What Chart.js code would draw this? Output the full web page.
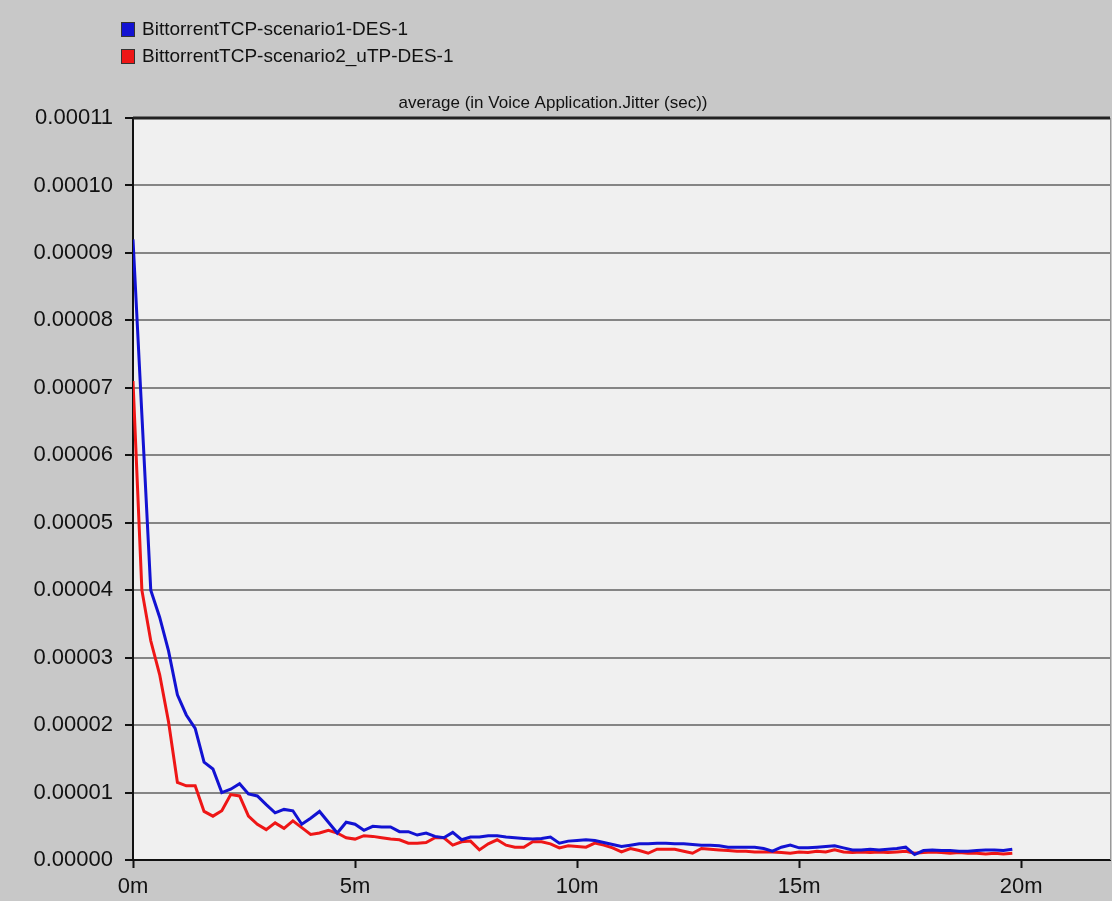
<!DOCTYPE html>
<html>
<head>
<meta charset="utf-8">
<title>Voice Application Jitter</title>
<script src="https://cdn.jsdelivr.net/npm/chart.js@4.4.1/dist/chart.umd.min.js"></script>
<style>
  html, body { margin: 0; padding: 0; background: #c8c8c8; }
  #wrap { width: 1112px; height: 901px; }
</style>
</head>
<body>
<div id="wrap"><canvas id="jitterChart" width="1112" height="901"></canvas></div>
<script>
// time of each bucket (minutes)
const minutes = [
  0, 0.2, 0.4, 0.6, 0.8, 1, 1.2, 1.4, 1.6, 1.8, 2, 2.2, 2.4, 2.6, 2.8, 3, 3.2, 3.4, 3.6, 3.8,
  4, 4.2, 4.4, 4.6, 4.8, 5, 5.2, 5.4, 5.6, 5.8, 6, 6.2, 6.4, 6.6, 6.8, 7, 7.2, 7.4, 7.6, 7.8,
  8, 8.2, 8.4, 8.6, 8.8, 9, 9.2, 9.4, 9.6, 9.8, 10, 10.2, 10.4, 10.6, 10.8, 11, 11.2, 11.4, 11.6, 11.8,
  12, 12.2, 12.4, 12.6, 12.8, 13, 13.2, 13.4, 13.6, 13.8, 14, 14.2, 14.4, 14.6, 14.8, 15, 15.2, 15.4, 15.6, 15.8,
  16, 16.2, 16.4, 16.6, 16.8, 17, 17.2, 17.4, 17.6, 17.8, 18, 18.2, 18.4, 18.6, 18.8, 19, 19.2, 19.4, 19.6, 19.8
];

// jitter values, in units of 0.00001 sec
const scenario1 = [
  9.2, 6.6, 4.0, 3.6, 3.1, 2.45, 2.15, 1.95, 1.45, 1.35, 1.0, 1.05, 1.13, 0.98, 0.95, 0.82, 0.70, 0.75, 0.73, 0.53,
  0.62, 0.72, 0.56, 0.40, 0.56, 0.53, 0.44, 0.50, 0.49, 0.49, 0.42, 0.42, 0.37, 0.40, 0.35, 0.33, 0.41, 0.30, 0.34, 0.34,
  0.36, 0.36, 0.34, 0.33, 0.32, 0.31, 0.32, 0.34, 0.25, 0.28, 0.29, 0.30, 0.29, 0.26, 0.23, 0.20, 0.22, 0.24, 0.24, 0.25,
  0.25, 0.24, 0.24, 0.23, 0.22, 0.22, 0.21, 0.19, 0.19, 0.19, 0.19, 0.17, 0.13, 0.19, 0.22, 0.18, 0.18, 0.19, 0.20, 0.21,
  0.18, 0.15, 0.15, 0.16, 0.15, 0.16, 0.17, 0.19, 0.08, 0.14, 0.15, 0.14, 0.14, 0.13, 0.13, 0.14, 0.15, 0.15, 0.14, 0.16
];
const scenario2 = [
  7.1, 4.0, 3.25, 2.75, 2.05, 1.15, 1.1, 1.1, 0.72, 0.65, 0.73, 0.97, 0.95, 0.65, 0.53, 0.45, 0.55, 0.47, 0.58, 0.48,
  0.38, 0.40, 0.44, 0.40, 0.33, 0.31, 0.36, 0.35, 0.33, 0.31, 0.30, 0.25, 0.25, 0.26, 0.33, 0.33, 0.22, 0.27, 0.28, 0.15,
  0.24, 0.30, 0.22, 0.19, 0.19, 0.27, 0.27, 0.24, 0.18, 0.21, 0.20, 0.19, 0.25, 0.22, 0.18, 0.12, 0.17, 0.14, 0.10, 0.16,
  0.16, 0.16, 0.13, 0.10, 0.17, 0.16, 0.15, 0.14, 0.13, 0.13, 0.12, 0.12, 0.12, 0.11, 0.10, 0.12, 0.11, 0.13, 0.12, 0.15,
  0.12, 0.11, 0.12, 0.11, 0.12, 0.11, 0.12, 0.13, 0.10, 0.11, 0.12, 0.11, 0.10, 0.11, 0.10, 0.10, 0.09, 0.10, 0.09, 0.10
];

const seriesNames = ['BittorrentTCP-scenario1-DES-1', 'BittorrentTCP-scenario2_uTP-DES-1'];
const seriesColors = ['#1212d2', '#ee1616'];
const chartTitle = 'average (in Voice Application.Jitter (sec))';
const xTicks = [0, 5, 10, 15, 20];
const yTicks = [0, 1, 2, 3, 4, 5, 6, 7, 8, 9, 10, 11];

const FONT = '"Liberation Sans", Arial, sans-serif';

function toPoints(vals) {
    return vals.map((v, i) => ({ x: minutes[i], y: v }));
}

// gray panel, plot background, top rule, legend and title
const opnetFrame = {
    id: 'opnetFrame',
    beforeDraw(chart) {
        const { ctx, chartArea: a } = chart;
        ctx.save();
        ctx.fillStyle = '#c8c8c8';
        ctx.fillRect(0, 0, chart.width, chart.height);
        ctx.fillStyle = '#f0f0f0';
        ctx.fillRect(a.left, a.top, a.right - a.left, a.bottom - a.top);
        ctx.restore();
    },
    afterDraw(chart) {
        const { ctx, chartArea: a } = chart;
        ctx.save();
        ctx.strokeStyle = '#222';
        ctx.lineWidth = 3;
        ctx.beginPath();
        ctx.moveTo(a.left, a.top);
        ctx.lineTo(a.right, a.top);
        ctx.stroke();
        ctx.strokeStyle = '#999';
        ctx.lineWidth = 1;
        ctx.beginPath();
        ctx.moveTo(a.right + 0.5, a.top);
        ctx.lineTo(a.right + 0.5, a.bottom);
        ctx.stroke();

        // legend
        ctx.font = '19px ' + FONT;
        ctx.textBaseline = 'middle';
        ctx.textAlign = 'left';
        seriesNames.forEach((name, i) => {
            const y = 30 + i * 27;
            ctx.fillStyle = seriesColors[i];
            ctx.fillRect(122, y - 7, 12, 13);
            ctx.strokeStyle = '#333';
            ctx.lineWidth = 1;
            ctx.strokeRect(121.5, y - 7.5, 13, 14);
            ctx.fillStyle = '#111';
            ctx.fillText(name, 142, y);
        });

        // title
        ctx.font = '17px ' + FONT;
        ctx.textAlign = 'center';
        ctx.fillText(chartTitle, 553, 103);
        ctx.restore();
    }
};

new Chart(document.getElementById('jitterChart'), {
    type: 'line',
    data: {
        datasets: [
            { label: seriesNames[0], data: toPoints(scenario1), borderColor: seriesColors[0], borderWidth: 3 },
            { label: seriesNames[1], data: toPoints(scenario2), borderColor: seriesColors[1], borderWidth: 3 }
        ]
    },
    options: {
        responsive: false,
        animation: false,
        layout: { padding: { top: 118, right: 2, left: 0, bottom: 0 } },
        elements: { point: { radius: 0 }, line: { tension: 0 } },
        plugins: { legend: { display: false }, title: { display: false }, tooltip: { enabled: false } },
        scales: {
            x: {
                type: 'linear',
                min: 0,
                max: 22,
                afterFit(s) { s.height = 41; },
                afterBuildTicks(s) { s.ticks = xTicks.map(v => ({ value: v })); },
                ticks: {
                    color: '#111',
                    font: { family: FONT, size: 22 },
                    padding: 6,
                    maxRotation: 0,
                    callback: v => v + 'm'
                },
                grid: { drawOnChartArea: false, tickLength: 8, tickColor: '#111', tickWidth: 2 },
                border: { color: '#111', width: 2 }
            },
            y: {
                min: 0,
                max: 11,
                afterFit(s) { s.width = 133; },
                afterBuildTicks(s) { s.ticks = yTicks.map(v => ({ value: v })); },
                ticks: {
                    color: '#111',
                    font: { family: FONT, size: 22 },
                    padding: 12,
                    callback: v => (v * 1e-5).toFixed(5)
                },
                grid: { color: '#858585', lineWidth: 2, tickLength: 8, tickColor: '#111', tickWidth: 2 },
                border: { color: '#111', width: 2 }
            }
        }
    },
    plugins: [opnetFrame]
});
</script>
</body>
</html>
